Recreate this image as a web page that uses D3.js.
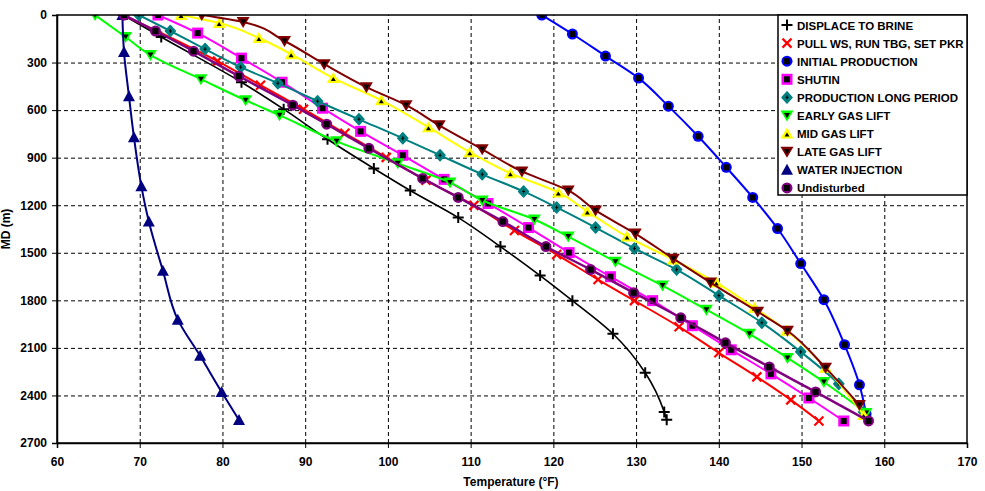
<!DOCTYPE html>
<html>
<head>
<meta charset="utf-8">
<script src="https://cdn.jsdelivr.net/npm/d3@7/dist/d3.min.js"></script>
<style>
  body { margin: 0; background: #fff; }
  svg text { font-family: "Liberation Sans", Arial, sans-serif; font-weight: bold; fill: #000; }
</style>
</head>
<body>
<svg id="chart" width="985" height="491"></svg>
<script>
// [temperature degF, MD m]
var displaceToBrine = [[68,0],[72.6,139],[82.3,424],[87.4,594],[92.7,784],[98.3,968],[102.7,1107],[108.5,1278],[113.6,1461],[118.4,1644],[122.3,1802],[127.2,2011],[131.1,2257],[133.4,2504],[133.7,2554]];
var pullWsRunTbg = [[68,0],[79.4,291],[84.6,443],[89.8,594],[94.8,746],[99.8,898],[104.6,1043],[110.4,1201],[115.3,1360],[120.4,1511],[125.4,1669],[129.8,1802],[135.2,1967],[140.0,2131],[144.6,2283],[148.7,2428],[152.1,2561]];
var initialProduction = [[118.6,0],[122.3,120],[126.3,259],[130.3,398],[133.9,575],[137.5,765],[140.9,961],[144.1,1151],[147.1,1347],[149.9,1568],[152.7,1796],[155.2,2080],[157.0,2333],[157.8,2517]];
var shutin = [[72.2,0],[77.0,114],[82.3,272],[87.2,424],[92.1,588],[96.7,734],[101.8,885],[106.8,1037],[112.1,1189],[117.0,1341],[121.9,1499],[126.9,1651],[132.0,1802],[136.8,1960],[141.5,2112],[146.3,2264],[150.9,2416],[155.1,2561]];
var productionLong = [[69.9,0],[73.7,101],[77.9,215],[82.2,329],[86.7,430],[91.5,544],[96.5,658],[101.8,778],[106.3,885],[111.4,1005],[116.4,1113],[120.4,1214],[125.1,1341],[129.8,1473],[134.9,1606],[140.0,1770],[145.2,1941],[149.9,2125],[154.5,2327],[157.5,2505]];
var earlyGasLift = [[64.6,0],[68.3,139],[71.3,253],[77.4,405],[82.8,538],[86.9,632],[93.8,797],[101.2,936],[107.5,1056],[111.4,1170],[117.7,1290],[121.8,1398],[127.5,1556],[133.2,1707],[138.5,1859],[143.7,2011],[148.3,2163],[152.7,2315],[157.8,2510]];
var midGasLift = [[75.0,0],[79.6,51],[84.4,145],[88.3,247],[93.4,398],[99.2,538],[104.9,708],[109.9,866],[114.8,999],[120.6,1119],[124.1,1239],[128.9,1398],[134.5,1543],[139.7,1688],[144.3,1847],[148.2,1992],[152.9,2226],[157.5,2524]];
var lateGasLift = [[77.5,0],[82.5,44],[87.5,164],[92.3,310],[97.4,455],[102.2,569],[106.2,696],[111.4,847],[116.2,987],[121.8,1107],[125.1,1233],[129.9,1379],[134.5,1537],[139.0,1688],[144.7,1872],[148.3,1992],[152.9,2226],[157.0,2460]];
var waterInjection = [[67.9,0],[68.1,234],[68.7,512],[69.3,771],[70.2,1081],[71.1,1303],[72.8,1613],[74.6,1922],[77.3,2150],[79.9,2378],[82.0,2555]];
var undisturbed = [[68.1,0],[71.9,101],[76.5,228],[82.0,386],[88.5,569],[92.6,689],[97.7,841],[104.2,1031],[108.5,1151],[113.9,1303],[119.1,1461],[124.5,1606],[129.7,1752],[135.4,1910],[140.8,2068],[146.1,2220],[151.7,2378],[158.1,2561]];

var seriesNames = ['DISPLACE TO BRINE', 'PULL WS, RUN TBG, SET PKR', 'INITIAL PRODUCTION', 'SHUTIN',
  'PRODUCTION LONG PERIOD', 'EARLY GAS LIFT', 'MID GAS LIFT', 'LATE GAS LIFT', 'WATER INJECTION', 'Undisturbed'];
var seriesValues = [displaceToBrine, pullWsRunTbg, initialProduction, shutin, productionLong,
  earlyGasLift, midGasLift, lateGasLift, waterInjection, undisturbed];

var xTicks = [60, 70, 80, 90, 100, 110, 120, 130, 140, 150, 160, 170];
var yTicks = [0, 300, 600, 900, 1200, 1500, 1800, 2100, 2400, 2700];

// look of each series: line colour, marker shape
var styles = [
  { color: '#000000', marker: 'plus', width: 1.6 },
  { color: '#ff0000', marker: 'cross', width: 2 },
  { color: '#0000ff', marker: 'circle', width: 2 },
  { color: '#ff00ff', marker: 'square', width: 2 },
  { color: '#008080', marker: 'diamond', width: 2 },
  { color: '#00ff00', marker: 'down', width: 2 },
  { color: '#ffff00', marker: 'up', width: 2 },
  { color: '#800000', marker: 'down', width: 2 },
  { color: '#000080', marker: 'solidUp', width: 2 },
  { color: '#800080', marker: 'circle', width: 2.5 }
];

var plotLeft = 57, plotRight = 967, plotTop = 15, plotBottom = 443;

var svg = d3.select('#chart');
var x = d3.scaleLinear().domain([60, 170]).range([plotLeft, plotRight]);
var y = d3.scaleLinear().domain([0, 2700]).range([plotTop, plotBottom]);

svg.append('defs').append('clipPath').attr('id', 'plotClip')
  .append('rect')
  .attr('x', plotLeft).attr('y', plotTop)
  .attr('width', plotRight - plotLeft).attr('height', plotBottom - plotTop);

// dashed grid
svg.append('g')
  .attr('transform', 'translate(0,' + plotBottom + ')')
  .call(d3.axisBottom(x).tickValues(xTicks.slice(1, -1)).tickSize(-(plotBottom - plotTop)).tickFormat(''))
  .call(function(g) {
    g.select('.domain').remove();
    g.selectAll('line').attr('stroke', '#000').attr('stroke-dasharray', '4,3');
  });
svg.append('g')
  .attr('transform', 'translate(' + plotLeft + ',0)')
  .call(d3.axisLeft(y).tickValues(yTicks.slice(1, -1)).tickSize(-(plotRight - plotLeft)).tickFormat(''))
  .call(function(g) {
    g.select('.domain').remove();
    g.selectAll('line').attr('stroke', '#000').attr('stroke-dasharray', '4,3');
  });

function drawMarker(g, style) {
  var c = style.color;
  switch (style.marker) {
    case 'plus':
      g.append('path').attr('d', 'M-5.5,0H5.5M0,-5.5V5.5').attr('stroke', c).attr('stroke-width', 2);
      break;
    case 'cross':
      g.append('path').attr('d', 'M-4.5,-4.5L4.5,4.5M4.5,-4.5L-4.5,4.5').attr('stroke', c).attr('stroke-width', 2.2);
      break;
    case 'circle':
      g.append('circle').attr('r', 5.5).attr('fill', c);
      g.append('rect').attr('x', -3).attr('y', -3).attr('width', 6).attr('height', 6).attr('fill', '#000');
      break;
    case 'square':
      g.append('rect').attr('x', -5.5).attr('y', -5.5).attr('width', 11).attr('height', 11).attr('fill', c);
      g.append('rect').attr('x', -3).attr('y', -3).attr('width', 6).attr('height', 6).attr('fill', '#000');
      break;
    case 'diamond':
      g.append('path').attr('d', 'M0,-5.5L5,0L0,5.5L-5,0Z').attr('fill', c).attr('stroke', c).attr('stroke-width', 1.5).attr('stroke-linejoin', 'round');
      g.append('path').attr('d', 'M-1.5,0H1.5M0,-2V2').attr('stroke', '#000').attr('stroke-width', 1);
      break;
    case 'down':
      g.append('path').attr('d', 'M-6.5,-5H6.5L0,6Z').attr('fill', c);
      g.append('path').attr('d', 'M-3,-2.5H3L0,2.5Z').attr('fill', '#000');
      break;
    case 'up':
      g.append('path').attr('d', 'M-6.5,5H6.5L0,-6Z').attr('fill', c);
      g.append('path').attr('d', 'M-2.5,3H2.5L0,-1Z').attr('fill', '#000');
      break;
    case 'solidUp':
      g.append('path').attr('d', 'M-6,5H6L0,-6Z').attr('fill', c);
      break;
  }
}

var line = d3.line()
  .x(function(d) { return x(d[0]); })
  .y(function(d) { return y(d[1]); })
  .curve(d3.curveMonotoneY);

var plot = svg.append('g').attr('clip-path', 'url(#plotClip)');
seriesValues.forEach(function(values, i) {
  var style = styles[i];
  var g = plot.append('g').attr('class', 'series');
  g.append('path')
    .datum(values)
    .attr('d', line)
    .attr('fill', 'none')
    .attr('stroke', style.color)
    .attr('stroke-width', style.width);
  g.selectAll('.pt')
    .data(values)
    .enter().append('g')
    .attr('class', 'pt')
    .attr('transform', function(d) { return 'translate(' + x(d[0]) + ',' + y(d[1]) + ')'; })
    .each(function() { drawMarker(d3.select(this), style); });
});

// frame
svg.append('rect')
  .attr('x', plotLeft).attr('y', plotTop)
  .attr('width', plotRight - plotLeft).attr('height', plotBottom - plotTop)
  .attr('fill', 'none').attr('stroke', '#000').attr('stroke-width', 1.5);

// axes
var xAxis = svg.append('g')
  .attr('transform', 'translate(0,' + plotBottom + ')')
  .call(d3.axisBottom(x).tickValues(xTicks).tickSize(5).tickPadding(9).tickFormat(d3.format('d')));
var yAxis = svg.append('g')
  .attr('transform', 'translate(' + plotLeft + ',0)')
  .call(d3.axisLeft(y).tickValues(yTicks).tickSize(5).tickPadding(5).tickFormat(d3.format('d')));
[xAxis, yAxis].forEach(function(g) {
  g.select('.domain').attr('stroke', '#000').attr('stroke-width', 1.5);
  g.selectAll('line').attr('stroke', '#000');
  g.selectAll('text').style('font-size', '12px').style('font-family', '"Liberation Sans", Arial, sans-serif')
    .style('font-weight', 'bold');
});

svg.append('text')
  .attr('x', 511).attr('y', 486)
  .attr('text-anchor', 'middle')
  .style('font-size', '12px')
  .text('Temperature (°F)');
svg.append('text')
  .attr('transform', 'translate(10,229) rotate(-90)')
  .attr('text-anchor', 'middle')
  .style('font-size', '12px')
  .text('MD (m)');

// legend
var legend = svg.append('g');
legend.append('rect')
  .attr('x', 778).attr('y', plotTop)
  .attr('width', plotRight - 778).attr('height', 180)
  .attr('fill', '#fff').attr('stroke', '#000').attr('stroke-width', 1.5);
seriesNames.forEach(function(name, i) {
  var cy = 25 + i * 18.1;
  drawMarker(legend.append('g').attr('transform', 'translate(787,' + cy + ')'), styles[i]);
  legend.append('text')
    .attr('x', 797).attr('y', cy + 4.5)
    .style('font-size', '11.5px')
    .text(name);
});
</script>
</body>
</html>
